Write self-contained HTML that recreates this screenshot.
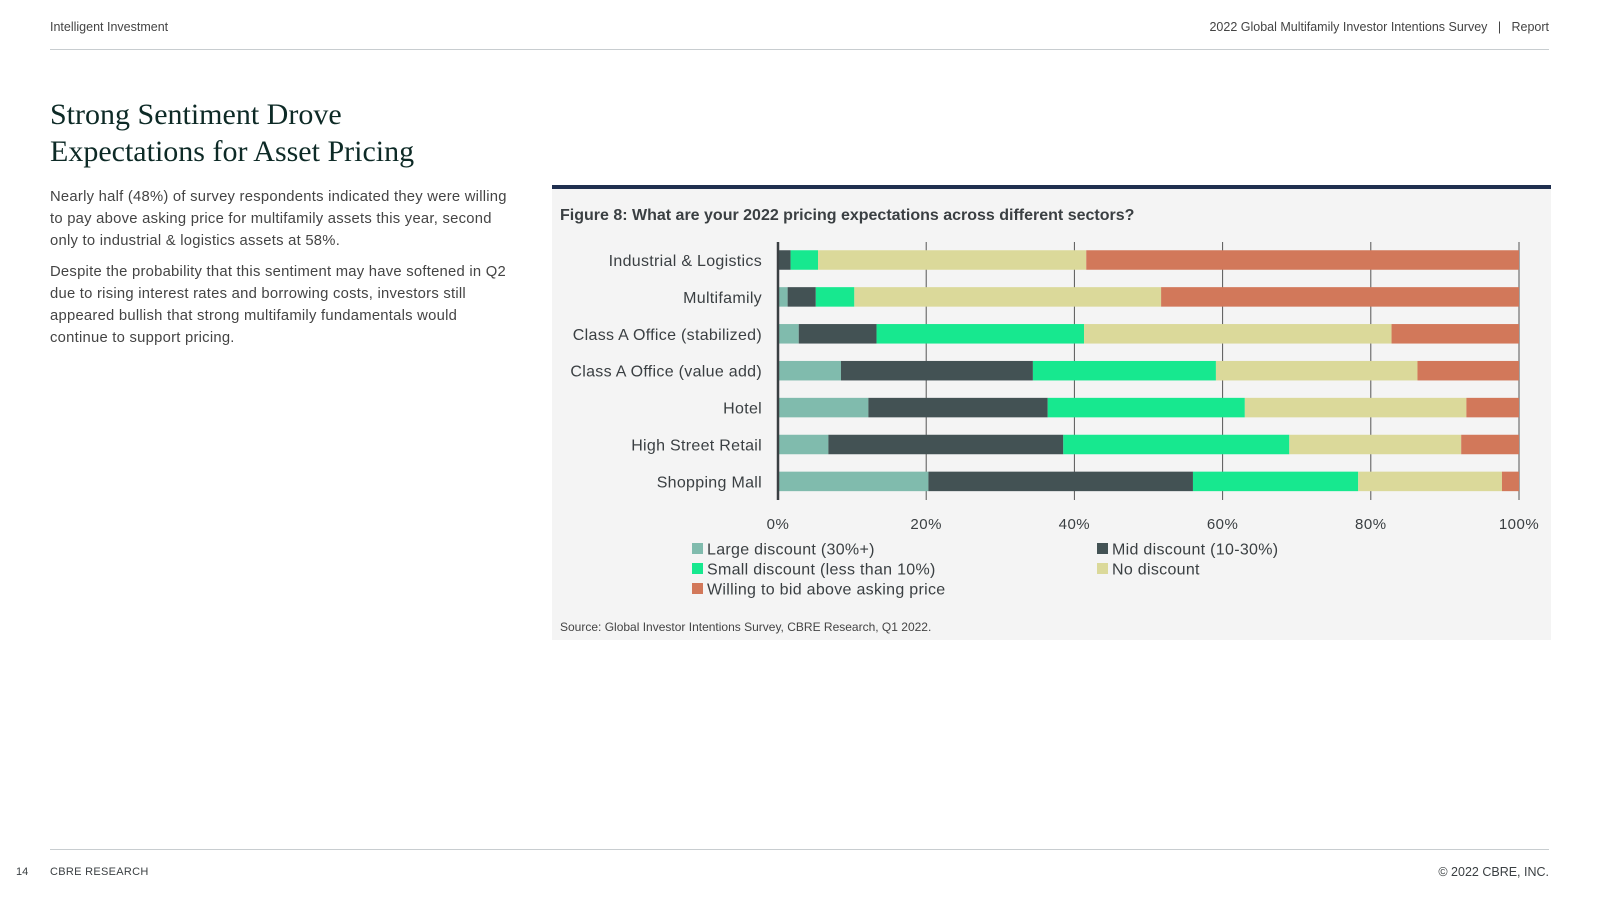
<!DOCTYPE html>
<html><head><meta charset="utf-8"><style>
body{margin:0;width:1600px;height:900px;background:#fff;position:relative;font-family:"Liberation Sans",sans-serif;color:#3a3f42;overflow:hidden}
.a{position:absolute;white-space:nowrap}
</style></head><body>
<div class="a" style="left:50px;top:20px;font-size:12.5px;color:#444">Intelligent Investment</div>
<div class="a" style="right:51px;top:20px;font-size:12.5px;color:#444">2022 Global Multifamily Investor Intentions Survey &nbsp; | &nbsp; Report</div>
<div class="a" style="left:50px;top:49px;width:1499px;height:1px;background:#c8cdd0"></div>
<div class="a" style="left:50px;top:96px;font-family:'Liberation Serif',serif;font-size:30px;line-height:37px;color:#0d2a26">Strong Sentiment Drove<br>Expectations for Asset Pricing</div>
<div class="a" style="left:50px;top:186px;font-size:14.8px;line-height:22px;color:#444;letter-spacing:0.25px">
<p style="margin:0 0 9px">Nearly half (48%) of survey respondents indicated they were willing<br>to pay above asking price for multifamily assets this year, second<br>only to industrial &amp; logistics assets at 58%.</p>
<p style="margin:0">Despite the probability that this sentiment may have softened in Q2<br>due to rising interest rates and borrowing costs, investors still<br>appeared bullish that strong multifamily fundamentals would<br>continue to support pricing.</p></div>
<div class="a" style="left:552px;top:185px;width:999px;height:455px;background:#f4f4f4;border-top:4px solid #1f2f4f;box-sizing:border-box"></div>
<div class="a" style="left:560px;top:207px;font-size:16px;font-weight:bold;color:#3a3f42">Figure 8: What are your 2022 pricing expectations across different sectors?</div>
<svg class="a" style="left:0;top:0" width="1600" height="900" id="chart"></svg>
<div class="a" style="left:560px;top:620px;font-size:12px;color:#444">Source: Global Investor Intentions Survey, CBRE Research, Q1 2022.</div>
<div class="a" style="left:50px;top:849px;width:1499px;height:1px;background:#c8cdd0"></div>
<div class="a" style="left:16px;top:866px;font-size:11px">14</div>
<div class="a" style="left:50px;top:866px;font-size:11px;letter-spacing:0.3px">CBRE RESEARCH</div>
<div class="a" style="right:51px;top:865px;font-size:12.5px">© 2022 CBRE, INC.</div>
<script>
const categories=["Industrial & Logistics","Multifamily","Class A Office (stabilized)","Class A Office (value add)","Hotel","High Street Retail","Shopping Mall"];
const largeDiscount=[0,1.3,2.8,8.5,12.2,6.8,20.3];
const midDiscount=[1.7,3.8,10.5,25.9,24.2,31.7,35.7];
const smallDiscount=[3.7,5.2,28.0,24.7,26.6,30.5,22.3];
const noDiscount=[36.2,41.4,41.5,27.2,29.9,23.2,19.4];
const aboveAsking=[58.4,48.3,17.2,13.7,7.1,7.8,2.3];
const tickValues=[0,20,40,60,80,100];
const seriesNames=["Large discount (30%+)","Mid discount (10-30%)","Small discount (less than 10%)","No discount","Willing to bid above asking price"];
const colors=["#80bbad","#435254","#17e88f","#dbd99a","#d2785a"];
const series=[largeDiscount,midDiscount,smallDiscount,noDiscount,aboveAsking];
const svg=document.getElementById('chart');const NS='http://www.w3.org/2000/svg';
const x0=778,x1=1519,yTop=242,yBot=500,rowStart=260,rowStep=36.9,barH=19.5;
const xs=v=>x0+(x1-x0)*v/100;const ys=i=>rowStart+i*rowStep;
function mk(t,a){const e=document.createElementNS(NS,t);for(const k in a)e.setAttribute(k,a[k]);svg.appendChild(e);return e;}
tickValues.forEach(t=>{
 const g=mk('line',{x1:xs(t),x2:xs(t),y1:yTop,y2:yBot,stroke:'#555','stroke-width':1});
 
 
 const l=mk('text',{x:xs(t),y:529,'text-anchor':'middle','font-size':15,fill:'#3a3f42','font-family':'Liberation Sans','letter-spacing':0.5});
 l.textContent=t+'%';
 
 
});
categories.forEach((c,i)=>{
 let acc=0;
 series.forEach((s,k)=>{
  const r=mk('rect',{x:xs(acc),y:ys(i)-barH/2,width:xs(acc+s[i])-xs(acc),height:barH,fill:colors[k]});
  
  
  acc+=s[i];
 });
 const t=mk('text',{x:762,y:ys(i)+6,'text-anchor':'end','font-size':16,fill:'#3a3f42','font-family':'Liberation Sans','letter-spacing':0.3});
 t.textContent=c;
 
 
});
const ax=mk('line',{x1:x0,x2:x0,y1:yTop,y2:yBot,stroke:'#3a3f42','stroke-width':2.5});


const legPos=[[692,549],[1097,549],[692,569],[1097,569],[692,589]];
seriesNames.forEach((n,k)=>{
 const r=mk('rect',{x:legPos[k][0],y:legPos[k][1]-6,width:11,height:11,fill:colors[k]});
 
 
 const t=mk('text',{x:legPos[k][0]+15,y:legPos[k][1]+5.5,'font-size':16,fill:'#3a3f42','font-family':'Liberation Sans','letter-spacing':0.3});
 t.textContent=n;
 
 
});
</script>
</body></html>
